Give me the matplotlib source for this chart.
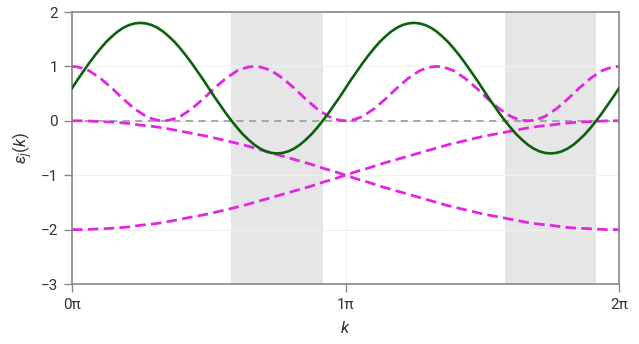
#!/usr/bin/env python3
"""
Band energies eps_j(k) over one 2*pi period, with the k ranges where the
green band drops below zero shaded.
"""
import numpy as np
import matplotlib.pyplot as plt

plt.rcParams['font.family'] = ['Roboto', 'DejaVu Sans']
plt.rcParams['mathtext.fontset'] = 'custom'
plt.rcParams['mathtext.it'] = 'Roboto:italic'
plt.rcParams['mathtext.rm'] = 'Roboto'

# wiggly bands sampled every pi/48, in units of pi
k_fine = [j / 48 for j in range(97)]

band_green = [0.60, 0.76, 0.91, 1.06, 1.20, 1.33, 1.45, 1.55, 1.64, 1.71, 1.76, 1.79,
              1.80, 1.79, 1.76, 1.71, 1.64, 1.55, 1.45, 1.33, 1.20, 1.06, 0.91, 0.76,
              0.60, 0.44, 0.29, 0.14, 0.00, -0.13, -0.25, -0.35, -0.44, -0.51, -0.56, -0.59,
              -0.60, -0.59, -0.56, -0.51, -0.44, -0.35, -0.25, -0.13, 0.00, 0.14, 0.29, 0.44,
              0.60, 0.76, 0.91, 1.06, 1.20, 1.33, 1.45, 1.55, 1.64, 1.71, 1.76, 1.79,
              1.80, 1.79, 1.76, 1.71, 1.64, 1.55, 1.45, 1.33, 1.20, 1.06, 0.91, 0.76,
              0.60, 0.44, 0.29, 0.14, 0.00, -0.13, -0.25, -0.35, -0.44, -0.51, -0.56, -0.59,
              -0.60, -0.59, -0.56, -0.51, -0.44, -0.35, -0.25, -0.13, 0.00, 0.14, 0.29, 0.44,
              0.60]

band_top = [1.00, 0.99, 0.96, 0.92, 0.85, 0.78, 0.69, 0.60, 0.50, 0.40, 0.31, 0.22,
            0.15, 0.08, 0.04, 0.01, 0.00, 0.01, 0.04, 0.08, 0.15, 0.22, 0.31, 0.40,
            0.50, 0.60, 0.69, 0.78, 0.85, 0.92, 0.96, 0.99, 1.00, 0.99, 0.96, 0.92,
            0.85, 0.78, 0.69, 0.60, 0.50, 0.40, 0.31, 0.22, 0.15, 0.08, 0.04, 0.01,
            0.00, 0.01, 0.04, 0.08, 0.15, 0.22, 0.31, 0.40, 0.50, 0.60, 0.69, 0.78,
            0.85, 0.92, 0.96, 0.99, 1.00, 0.99, 0.96, 0.92, 0.85, 0.78, 0.69, 0.60,
            0.50, 0.40, 0.31, 0.22, 0.15, 0.08, 0.04, 0.01, 0.00, 0.01, 0.04, 0.08,
            0.15, 0.22, 0.31, 0.40, 0.50, 0.60, 0.69, 0.78, 0.85, 0.92, 0.96, 0.99,
            1.00]

# slow bands sampled every pi/24
k_coarse = [j / 24 for j in range(49)]

band_mid = [0.00, 0.00, -0.01, -0.02, -0.03, -0.05, -0.08, -0.10, -0.13, -0.17, -0.21, -0.25,
            -0.29, -0.34, -0.39, -0.44, -0.50, -0.56, -0.62, -0.68, -0.74, -0.80, -0.87, -0.93,
            -1.00, -1.07, -1.13, -1.20, -1.26, -1.32, -1.38, -1.44, -1.50, -1.56, -1.61, -1.66,
            -1.71, -1.75, -1.79, -1.83, -1.87, -1.90, -1.92, -1.95, -1.97, -1.98, -1.99, -2.00,
            -2.00]

band_low = [-2.00, -2.00, -1.99, -1.98, -1.97, -1.95, -1.92, -1.90, -1.87, -1.83, -1.79, -1.75,
            -1.71, -1.66, -1.61, -1.56, -1.50, -1.44, -1.38, -1.32, -1.26, -1.20, -1.13, -1.07,
            -1.00, -0.93, -0.87, -0.80, -0.74, -0.68, -0.62, -0.56, -0.50, -0.44, -0.39, -0.34,
            -0.29, -0.25, -0.21, -0.17, -0.13, -0.10, -0.08, -0.05, -0.03, -0.02, -0.01, 0.00,
            0.00]

# shaded k ranges (units of pi)
shade_start = [0.583, 1.583]
shade_end = [0.917, 1.917]

x_ticks = [0, 1, 2]
x_ticklabels = ['0π', '1π', '2π']
y_ticks = [-3, -2, -1, 0, 1, 2]
y_ticklabels = ['−3', '−2', '−1', '0', '1', '2']

MAGENTA = '#e225e2'
GREEN = '#0b620b'

fig = plt.figure(figsize=(6.39, 3.44), dpi=100)
ax = fig.add_axes([0.1127, 0.1744, 0.8560, 0.7907])

kf = np.array(k_fine) * np.pi
kc = np.array(k_coarse) * np.pi
for s, e in zip(shade_start, shade_end):
    ax.axvspan(s * np.pi, e * np.pi, color='#e6e6e6', lw=0, zorder=0)

ax.axhline(0, color='#a0a0a0', lw=1.3, ls=(0, (4, 3)), zorder=1)

ax.plot(kf, band_top, color=MAGENTA, lw=2.0, ls=(0, (3.8, 1.9)), zorder=2)
for band in (band_mid, band_low):
    ax.plot(kc, band, color=MAGENTA, lw=2.0, ls=(0, (3.8, 1.9)), zorder=2)
ax.plot(kf, band_green, color=GREEN, lw=1.9, solid_joinstyle='round', zorder=3)

ax.set_xlim(0, 2 * np.pi)
ax.set_ylim(-3, 2)
ax.set_xticks([t * np.pi for t in x_ticks])
ax.set_xticklabels(x_ticklabels)
ax.set_yticks(y_ticks)
ax.set_yticklabels(y_ticklabels)
ax.grid(True, color='#f0f0f0', lw=0.8, zorder=0)
ax.set_axisbelow(True)

for side in ('left', 'bottom', 'top', 'right'):
    ax.spines[side].set_color('#888888')
    ax.spines[side].set_linewidth(1.2)
ax.tick_params(axis='both', length=6, width=1.0, color='#888888',
               labelsize=11, labelcolor='#333333', pad=4)

ax.set_xlabel('$k$', fontsize=12, color='#333333', labelpad=6)
ax.set_ylabel(r'$\varepsilon_j(k)$', fontsize=12, color='#333333', labelpad=4)

fig.savefig('out.png', dpi=100)
